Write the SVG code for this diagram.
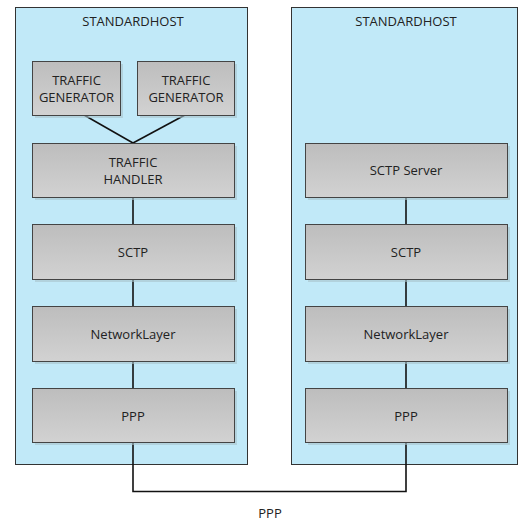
<svg xmlns="http://www.w3.org/2000/svg" width="523" height="522" viewBox="0 0 523 522">
<defs>
<linearGradient id="g" x1="0" y1="0" x2="0" y2="1">
<stop offset="0" stop-color="#bdbdbd"/>
<stop offset="1" stop-color="#d2d2d2"/>
</linearGradient>
</defs>
<style>
.host{fill:#c1e9f8;stroke:#333;stroke-width:1}
.box{fill:url(#g);stroke:#444;stroke-width:1}
.sh{fill:#a9c3cc;opacity:0.6}
text{font-family:"Open Sans","Liberation Sans",sans-serif;font-size:13px;fill:#222;text-anchor:middle}
.c{stroke:#111;stroke-width:1.6;fill:none}
</style>
<g id="host1"><rect class="host" x="15.5" y="7.5" width="232" height="457"/><text x="133" y="25.5">STANDARDHOST</text></g>
<g id="host2"><rect class="host" x="291.5" y="7.5" width="226" height="457"/><text x="406" y="25.5">STANDARDHOST</text></g>
<g id="connectors">
<line class="c" x1="84" y1="115" x2="133" y2="143"/>
<line class="c" x1="185" y1="115" x2="133" y2="143"/>
<line class="c" x1="133" y1="197" x2="133" y2="224"/>
<line class="c" x1="133" y1="279" x2="133" y2="306"/>
<line class="c" x1="133" y1="361" x2="133" y2="388"/>
<line class="c" x1="406" y1="197" x2="406" y2="224"/>
<line class="c" x1="406" y1="279" x2="406" y2="306"/>
<line class="c" x1="406" y1="361" x2="406" y2="388"/>
<polyline class="c" points="133,442 133,491.5 406,491.5 406,442"/>
<text x="270" y="517.5">PPP</text>
</g>
<g id="gen1"><rect class="sh" x="35" y="64" width="88" height="54"/><rect class="box" x="32.5" y="61.5" width="88" height="54"/><text x="76.5" y="84.5">TRAFFIC</text><text x="76.5" y="101.5">GENERATOR</text></g>
<g id="gen2"><rect class="sh" x="140" y="64" width="97" height="54"/><rect class="box" x="137.5" y="61.5" width="97" height="54"/><text x="186" y="84.5">TRAFFIC</text><text x="186" y="101.5">GENERATOR</text></g>
<g id="handler"><rect class="sh" x="35" y="146" width="202" height="54"/><rect class="box" x="32.5" y="143.5" width="202" height="54"/><text x="133" y="166.5">TRAFFIC</text><text x="133" y="184">HANDLER</text></g>
<g id="sctp1"><rect class="sh" x="35" y="227" width="202" height="55"/><rect class="box" x="32.5" y="224.5" width="202" height="55"/><text x="133" y="256.5">SCTP</text></g>
<g id="net1"><rect class="sh" x="35" y="309" width="202" height="55"/><rect class="box" x="32.5" y="306.5" width="202" height="55"/><text x="133" y="338.5">NetworkLayer</text></g>
<g id="ppp1"><rect class="sh" x="35" y="391" width="202" height="54"/><rect class="box" x="32.5" y="388.5" width="202" height="54"/><text x="133" y="421">PPP</text></g>
<g id="server"><rect class="sh" x="308" y="146" width="202" height="54"/><rect class="box" x="305.5" y="143.5" width="202" height="54"/><text x="406" y="175">SCTP Server</text></g>
<g id="sctp2"><rect class="sh" x="308" y="227" width="202" height="55"/><rect class="box" x="305.5" y="224.5" width="202" height="55"/><text x="406" y="256.5">SCTP</text></g>
<g id="net2"><rect class="sh" x="308" y="309" width="202" height="55"/><rect class="box" x="305.5" y="306.5" width="202" height="55"/><text x="406" y="338.5">NetworkLayer</text></g>
<g id="ppp2"><rect class="sh" x="308" y="391" width="202" height="54"/><rect class="box" x="305.5" y="388.5" width="202" height="54"/><text x="406" y="421">PPP</text></g>
</svg>
